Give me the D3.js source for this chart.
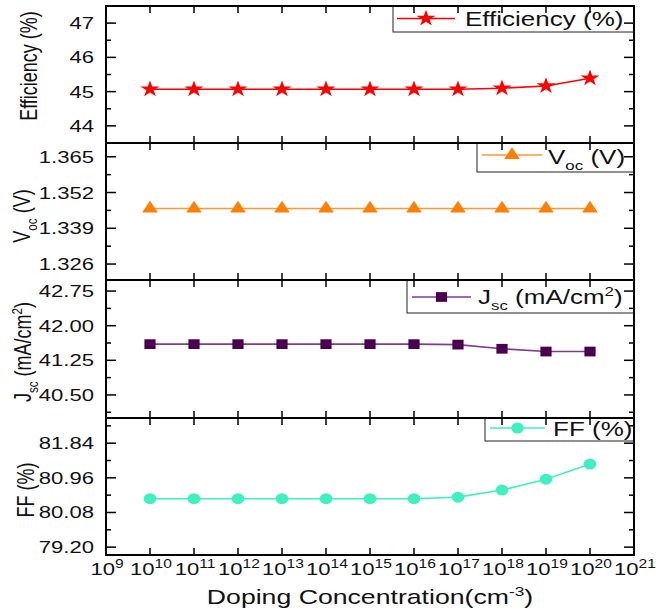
<!DOCTYPE html>
<html><head><meta charset="utf-8">
<script src="https://cdn.jsdelivr.net/npm/d3@7"></script>
<style>
body{margin:0;background:#fff}
svg{display:block}
text{font-family:"Liberation Sans",Arial,sans-serif;fill:#111}
</style></head>
<body><svg id="c" width="656" height="614"></svg>
<script>
// ---- data ----
const dopingExp = [10,11,12,13,14,15,16,17,18,19,20];
const efficiency = [45.07,45.07,45.07,45.07,45.07,45.07,45.07,45.07,45.10,45.165,45.39];
const voc = [1.3462,1.3462,1.3462,1.3462,1.3462,1.3462,1.3462,1.3462,1.3462,1.3462,1.3462];
const jsc = [41.60,41.60,41.60,41.60,41.60,41.60,41.60,41.59,41.50,41.44,41.44];
const ff = [80.43,80.43,80.43,80.43,80.43,80.43,80.43,80.47,80.65,80.925,81.31];
const xTickExp = [9,10,11,12,13,14,15,16,17,18,19,20,21];
const effTicks = [44,45,46,47];
const vocTicks = [1.326,1.339,1.352,1.365];
const jscTicks = [40.50,41.25,42.00,42.75];
const ffTicks = [79.20,80.08,80.96,81.84];

const SX = 1.3;
const svg = d3.select("#c");
const L = 106, R = 634;
const x = d3.scaleLog().domain([1e9,1e21]).range([L,R]);

const panels = [
  {vals:efficiency, ticks:effTicks, fmt:d3.format("d"), dom:[43.5,47.5], top:6, bot:143,
   color:"#ff0000", mcolor:"#ff0000", sym:d3.symbolStar, msize:85,
   title:[["Efficiency (%)",0]], tx:37, ty:66,
   leg:{x0:393,y0:6,y1:32,lx0:397,lx1:455,ly:18.5,tx:465,tyb:26,
        text:[["Efficiency (%)",0]]}},
  {vals:voc, ticks:vocTicks, fmt:d3.format(".3f"), dom:[1.3202,1.3700], top:143, bot:280,
   color:"#ff9933", mcolor:"#ff7f00", sym:d3.symbolTriangle, msize:80,
   title:[["V",0],["oc",1],[" (V)",0]], tx:30, ty:216,
   leg:{x0:477,y0:143,y1:172,lx0:482,lx1:542,ly:155,tx:548,tyb:164,
        text:[["V",0],["oc",1],[" (V)",0]]}},
  {vals:jsc, ticks:jscTicks, fmt:d3.format(".2f"), dom:[40.0,42.99], top:280, bot:418,
   color:"#7e3d8f", mcolor:"#4a004f", sym:d3.symbolSquare, msize:95,
   title:[["J",0],["sc",1],[" (mA/cm",0],["2",2],[")",0]], tx:31, ty:352,
   leg:{x0:407,y0:280,y1:313,lx0:412,lx1:471,ly:297,tx:478,tyb:304,
        text:[["J",0],["sc",1],[" (mA/cm",0],["2",2],[")",0]]}},
  {vals:ff, ticks:ffTicks, fmt:d3.format(".2f"), dom:[79.0,82.48], top:418, bot:555,
   color:"#40f0c0", mcolor:"#3ff0c0", sym:d3.symbolCircle, msize:95,
   title:[["FF (%)",0]], tx:34, ty:490,
   leg:{x0:485,y0:418,y1:441,lx0:490,lx1:545,ly:428,tx:553,tyb:436,
        text:[["FF (%)",0]]}}
];

function richText(sel, parts, size){
  let shift = 0;
  parts.forEach(([t,k])=>{
    const sp = sel.append("tspan").text(t);
    let target = k===1 ? size*0.3 : (k===2 ? -size*0.4 : 0);
    if (k) sp.attr("font-size", size*0.65);
    sp.attr("dy", target - shift);
    shift = target;
  });
}

panels.forEach(p=>{
  const y = d3.scaleLinear().domain(p.dom).range([p.bot,p.top]);
  const g = svg.append("g");
  const pts = dopingExp.map((e,i)=>[x(Math.pow(10,e)), y(p.vals[i])]);
  g.append("path").attr("d", d3.line()(pts)).attr("fill","none")
    .attr("stroke",p.color).attr("stroke-width",1.6);
  g.selectAll(".m").data(pts).join("path")
    .attr("transform",d=>`translate(${d[0]},${d[1]}) scale(1.15,1)`)
    .attr("d", d3.symbol(p.sym, p.msize)()).attr("fill",p.mcolor);

  // legend
  const lg = p.leg;
  g.append("rect").attr("x",lg.x0).attr("y",lg.y0).attr("width",R-lg.x0).attr("height",lg.y1-lg.y0)
    .attr("fill","#fff").attr("stroke","#222").attr("stroke-width",1);
  g.append("line").attr("x1",lg.lx0).attr("x2",lg.lx1).attr("y1",lg.ly).attr("y2",lg.ly)
    .attr("stroke",p.color).attr("stroke-width",1.6);
  g.append("path").attr("transform",`translate(${(lg.lx0+lg.lx1)/2},${lg.ly}) scale(1.15,1)`)
    .attr("d", d3.symbol(p.sym, p.msize)()).attr("fill",p.mcolor);
  const lt = g.append("text").attr("font-size",20)
    .attr("transform",`translate(${lg.tx},${lg.tyb}) scale(${SX},1)`);
  richText(lt, lg.text, 20);

  // frame
  g.append("rect").attr("x",L).attr("y",p.top).attr("width",R-L).attr("height",p.bot-p.top)
    .attr("fill","none").attr("stroke","#000").attr("stroke-width",2);

  // y ticks
  const step = p.ticks[1]-p.ticks[0];
  const minor = [];
  for (let v = p.ticks[0]-step/2; v <= p.ticks[p.ticks.length-1]+step/2+1e-9; v += step/2) minor.push(v);
  minor.forEach((v,i)=>{
    const yy = y(v);
    if (yy < p.top+1 || yy > p.bot-1) return;
    const major = p.ticks.some(t=>Math.abs(t-v)<step*0.01);
    const len = major ? 10 : 5;
    g.append("line").attr("x1",L).attr("x2",L+len).attr("y1",yy).attr("y2",yy).attr("stroke","#000").attr("stroke-width",1.5);
    g.append("line").attr("x1",R).attr("x2",R-len).attr("y1",yy).attr("y2",yy).attr("stroke","#000").attr("stroke-width",1.5);
  });
  p.ticks.forEach(t=>{
    g.append("text").attr("font-size",17).attr("text-anchor","end")
      .attr("transform",`translate(94,${y(t)+6}) scale(${SX},1)`).text(p.fmt(t));
  });
  // x ticks (inward top and bottom)
  xTickExp.slice(1,-1).forEach(e=>{
    const xx = x(Math.pow(10,e));
    g.append("line").attr("x1",xx).attr("x2",xx).attr("y1",p.top).attr("y2",p.top+7).attr("stroke","#000").attr("stroke-width",1.5);
    g.append("line").attr("x1",xx).attr("x2",xx).attr("y1",p.bot).attr("y2",p.bot-7).attr("stroke","#000").attr("stroke-width",1.5);
  });
  // y title
  const tt = g.append("text").attr("font-size",18).attr("text-anchor","middle")
    .attr("transform",`translate(${p.tx},${p.ty}) scale(${SX},1) rotate(-90)`);
  richText(tt, p.title, 18);
});

// x tick labels
xTickExp.forEach(e=>{
  const t = svg.append("text").attr("font-size",17).attr("text-anchor","middle")
    .attr("transform",`translate(${x(Math.pow(10,e))+1},575) scale(${SX},1)`);
  t.append("tspan").text("10");
  t.append("tspan").attr("font-size",12).attr("dy",-7).text(String(e));
});
// x title
const xt = svg.append("text").attr("font-size",20.5).attr("text-anchor","middle")
  .attr("transform",`translate(370,604) scale(${SX},1)`);
richText(xt, [["Doping Concentration(cm",0],["-3",2],[")",0]], 20.5);
</script></body></html>
